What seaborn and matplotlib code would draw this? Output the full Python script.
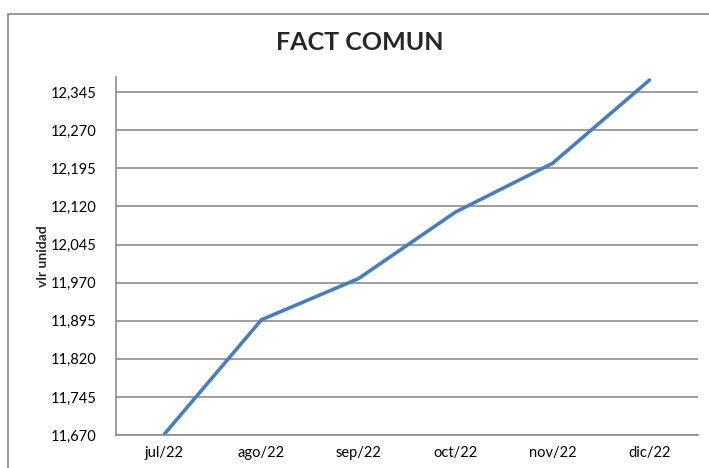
import pandas as pd
import matplotlib.pyplot as plt
import matplotlib.patches as mpatches
import seaborn as sns

# datos
meses = ['jul/22', 'ago/22', 'sep/22', 'oct/22', 'nov/22', 'dic/22']
valores = [11672, 11897, 11978, 12109, 12205, 12369]
ticks_y = [11670, 11745, 11820, 11895, 11970, 12045, 12120, 12195, 12270, 12345]

df = pd.DataFrame({'mes': meses, 'vlr': valores})

sns.set_style('white')
plt.rcParams['font.family'] = ['Lato', 'DejaVu Sans']

fig = plt.figure(figsize=(7.09, 4.68), dpi=100)
ax = fig.add_axes([116 / 709, 1 - 435 / 468, (698 - 116) / 709, (435 - 77) / 468])

# marco del grafico
fig.patches.append(mpatches.Rectangle((8 / 709, -0.1), 1.2, 1 - 14 / 468 + 0.1,
                                      transform=fig.transFigure, fill=False,
                                      edgecolor='#878787', linewidth=1.2))

sns.lineplot(data=df, x='mes', y='vlr', sort=False, color='#4A7EBB',
             linewidth=2.6, ax=ax, clip_on=True)

ax.set_xlim(-0.5, 5.5)
ax.set_ylim(11670, 12375)
ax.set_yticks(ticks_y)
ax.set_yticklabels([f'{v:,}' for v in ticks_y])
ax.yaxis.grid(True, color='#8c8c8c', linewidth=1.2)
ax.set_axisbelow(True)
ax.tick_params(axis='both', length=0, labelsize=10.5, colors='black')
ax.tick_params(axis='y', pad=14)
ax.tick_params(axis='x', pad=8)

for s in ['top', 'right']:
    ax.spines[s].set_visible(False)
for s in ['left', 'bottom']:
    ax.spines[s].set_color('#8c8c8c')
    ax.spines[s].set_linewidth(1.2)

ax.set_xlabel('')
ax.set_ylabel('vlr unidad', fontsize=10, fontweight='bold')
ax.yaxis.set_label_coords(-(116 - 49) / 582, 0.5)
fig.text(360 / 709, 1 - 43 / 468, 'FACT COMUN', ha='center', va='center',
         fontsize=18, fontweight='bold')

fig.savefig('out.png', dpi=100)
